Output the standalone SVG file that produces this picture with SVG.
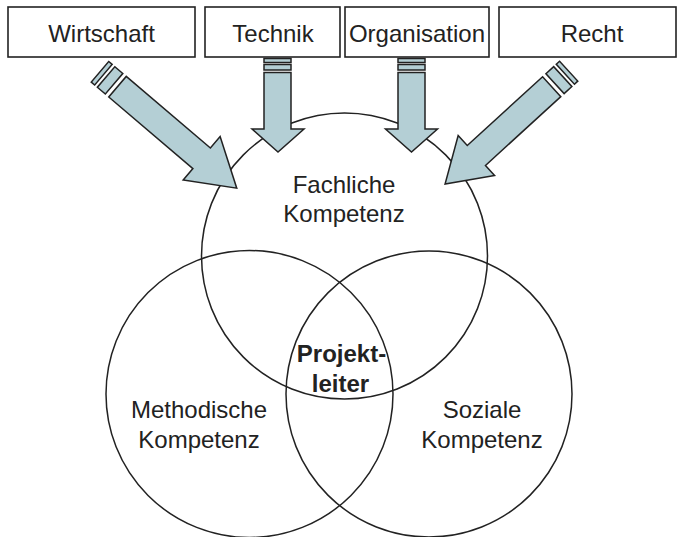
<svg xmlns="http://www.w3.org/2000/svg" width="677" height="537" viewBox="0 0 677 537">
<defs>
<style>
.box{fill:#fff;stroke:#222;stroke-width:1.6}
.lbl{font-family:"Liberation Sans",Arial,sans-serif;font-size:24px;fill:#222;text-anchor:middle}
.bold{font-weight:bold}
.circ{fill:none;stroke:#222;stroke-width:1.5}
.arr{fill:#b4cfd5;stroke:#222;stroke-width:1.5;stroke-linejoin:miter}
</style>
</defs>
<rect width="677" height="537" fill="#fff"/>

<g id="circle-fach"><circle class="circ" cx="344.5" cy="256" r="143"/></g>
<g id="circle-method"><circle class="circ" cx="249.5" cy="394" r="143.5"/></g>
<g id="circle-sozial"><circle class="circ" cx="429" cy="394" r="143"/></g>

<g id="connectors">
  <g id="arrow-wirtschaft" transform="translate(117.5,86.7) rotate(40.4)">
    <rect class="arr" x="-23" y="-13.5" width="4.5" height="27"/>
    <rect class="arr" x="-15" y="-13.5" width="10.5" height="27"/>
    <path class="arr" d="M0,-13.5 L110.5,-13.5 L110.5,-28.5 L156.6,0 L110.5,28.5 L110.5,13.5 L0,13.5 Z"/>
  </g>
  <g id="arrow-technik">
    <rect class="arr" x="264" y="58.5" width="27" height="4"/>
    <rect class="arr" x="264" y="64.5" width="27" height="5.5"/>
    <path class="arr" d="M264,72.5 L291,72.5 L291,129 L304,129 L278,152 L252,129 L264,129 Z"/>
  </g>
  <g id="arrow-organisation">
    <rect class="arr" x="398" y="58.5" width="27" height="4"/>
    <rect class="arr" x="398" y="64.5" width="27" height="5.5"/>
    <path class="arr" d="M398,72.5 L425,72.5 L425,129 L437.5,129 L411.5,152 L385.5,129 L398,129 Z"/>
  </g>
  <g id="arrow-recht" transform="translate(551.7,86.7) rotate(137.6)">
    <rect class="arr" x="-23" y="-13.5" width="4.5" height="27"/>
    <rect class="arr" x="-15" y="-13.5" width="10.5" height="27"/>
    <path class="arr" d="M0,-13.5 L102,-13.5 L102,-27 L144.4,0 L102,27 L102,13.5 L0,13.5 Z"/>
  </g>
</g>

<g id="box-wirtschaft"><rect class="box" x="8" y="7" width="187" height="50"/><text class="lbl" x="101.5" y="42">Wirtschaft</text></g>
<g id="box-technik"><rect class="box" x="205" y="7" width="135" height="50"/><text class="lbl" x="273" y="42">Technik</text></g>
<g id="box-organisation"><rect class="box" x="345" y="7" width="144" height="50"/><text class="lbl" x="417" y="42">Organisation</text></g>
<g id="box-recht"><rect class="box" x="499" y="7" width="177" height="50"/><text class="lbl" x="592" y="42">Recht</text></g>

<g id="label-fach"><text class="lbl" x="344" y="193">Fachliche</text><text class="lbl" x="344" y="221.5">Kompetenz</text></g>
<g id="label-method"><text class="lbl" x="199" y="418">Methodische</text><text class="lbl" x="199" y="448">Kompetenz</text></g>
<g id="label-sozial"><text class="lbl" x="482" y="418">Soziale</text><text class="lbl" x="482" y="448">Kompetenz</text></g>
<g id="label-projektleiter"><text class="lbl bold" x="341.5" y="361.5">Projekt-</text><text class="lbl bold" x="340.5" y="391.5">leiter</text></g>
</svg>
